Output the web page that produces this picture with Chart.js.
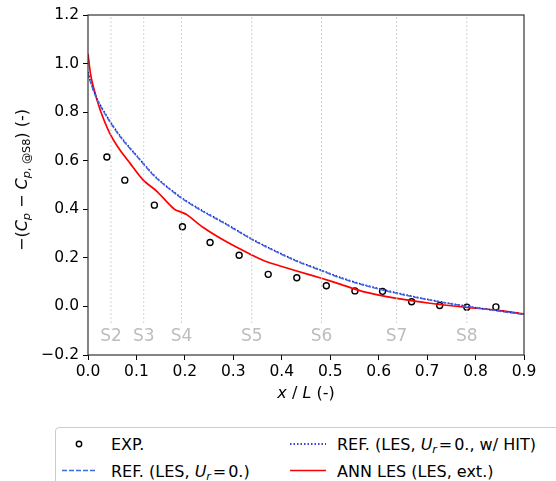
<!DOCTYPE html>
<html><head><meta charset="utf-8">
<script src="https://cdn.jsdelivr.net/npm/chart.js@4.4.0/dist/chart.umd.min.js"></script>
<style>
body{margin:0;background:#fff;}
#wrap{position:relative;width:556px;height:481px;overflow:hidden;font-family:"DejaVu Sans",sans-serif;color:#000;background:#fff;}
#c{position:absolute;left:0;top:0;}
.t{position:absolute;white-space:nowrap;font-size:16px;line-height:18px;}
sub{font-size:70%;vertical-align:-0.3em;line-height:0;}
.eq{margin:0 0.12em;}
.ytitle{left:22px;top:180px;transform:translate(-50%,-50%) rotate(-90deg);}
.xtitle{left:306px;top:393px;transform:translate(-50%,-50%);}
#legend{position:absolute;left:55px;top:427px;width:520px;height:80px;border:1px solid #cccccc;border-radius:4px;background:#fff;}
svg{position:absolute;left:0;top:0;overflow:visible;}
</style></head>
<body>
<div id="wrap">
<canvas id="c" width="556" height="481"></canvas>
<div class="t ytitle">−(<i>C</i><sub><i>p</i></sub> − <i>C</i><sub><i>p</i>, @S8</sub>) (-)</div>
<div class="t xtitle"><i>x</i> / <i>L</i> (-)</div>
<div id="legend"></div>
<svg width="556" height="481">
  <circle cx="79" cy="444" r="2.7" fill="none" stroke="#000" stroke-width="1.4"/>
  <line x1="62" y1="470.5" x2="97" y2="470.5" stroke="#4169e1" stroke-width="1.5" stroke-dasharray="5,2"/>
  <line x1="290" y1="444" x2="326" y2="444" stroke="#0000cd" stroke-width="1.5" stroke-dasharray="1.5,2"/>
  <line x1="290" y1="470.5" x2="326" y2="470.5" stroke="#ff0000" stroke-width="1.7"/>
</svg>
<div class="t" style="left:111px;top:436px;">EXP.</div>
<div class="t" style="left:111px;top:462.5px;">REF. (LES, <i>U</i><sub><i>r</i></sub><span class="eq">=</span>0.)</div>
<div class="t" style="left:337px;top:436px;">REF. (LES, <i>U</i><sub><i>r</i></sub><span class="eq">=</span>0., w/ HIT)</div>
<div class="t" style="left:337px;top:462.5px;">ANN LES (LES, ext.)</div>
</div>
<script>
// ---- data ----
const expX = [0.039,0.076,0.137,0.195,0.252,0.312,0.372,0.431,0.492,0.551,0.608,0.668,0.726,0.782,0.842];
const expY = [0.615,0.52,0.417,0.328,0.263,0.211,0.132,0.118,0.085,0.064,0.062,0.019,0.004,-0.003,-0.002];

const refX = [0,0.004,0.018,0.039,0.066,0.10,0.142,0.195,0.238,0.279,0.338,0.376,0.431,0.482,0.52,0.568,0.637,0.706,0.782,0.844,0.9];
const refY = [0.96,0.93,0.855,0.78,0.70,0.62,0.527,0.443,0.39,0.345,0.276,0.237,0.186,0.147,0.118,0.088,0.054,0.026,0.0,-0.018,-0.033];
const hitY = [0.965,0.934,0.858,0.783,0.703,0.622,0.529,0.445,0.392,0.347,0.278,0.239,0.188,0.149,0.12,0.09,0.056,0.027,0.001,-0.017,-0.032];

const annX = [0,0.005,0.011,0.025,0.045,0.066,0.087,0.114,0.141,0.169,0.18,0.193,0.204,0.238,0.286,0.338,0.369,0.431,0.482,0.52,0.568,0.637,0.706,0.782,0.844,0.9];
const annY = [1.04,0.96,0.905,0.81,0.713,0.644,0.589,0.52,0.476,0.418,0.398,0.388,0.378,0.325,0.266,0.212,0.184,0.146,0.116,0.092,0.061,0.033,0.013,-0.004,-0.015,-0.031];

const stations = ['S2','S3','S4','S5','S6','S7','S8'];
const stationX = [0.0475,0.115,0.193,0.338,0.482,0.637,0.782];
const stationLineBottom = -0.068;
const stationLabelY = -0.126;

const xTicks = [0,0.1,0.2,0.3,0.4,0.5,0.6,0.7,0.8,0.9];
const yTicks = [-0.2,0,0.2,0.4,0.6,0.8,1.0,1.2];

const pts = (xs, ys) => xs.map((x,i)=>({x:x,y:ys[i]}));

const stationSets = stationX.map(s => ({
  data:[{x:s,y:stationLineBottom},{x:s,y:1.2}],
  showLine:true, borderColor:'#c4c4c4', borderWidth:1, borderDash:[1.5,2.5],
  pointRadius:0, fill:false
}));

const frame = {
  id:'frame',
  afterDraw(chart){
    const {ctx, chartArea:a, scales} = chart;
    ctx.save();
    ctx.strokeStyle='#333'; ctx.lineWidth=1.2;
    ctx.strokeRect(a.left, a.top, a.right-a.left, a.bottom-a.top);
    ctx.fillStyle='#bdbdbd';
    ctx.font='17px "DejaVu Sans"';
    ctx.textAlign='center'; ctx.textBaseline='middle';
    stations.forEach((s,i)=>{
      ctx.fillText(s, scales.x.getPixelForValue(stationX[i]), scales.y.getPixelForValue(stationLabelY));
    });
    ctx.restore();
  }
};

const fmt = v => (Math.round(v*10)/10).toFixed(1).replace('-','−');

new Chart(document.getElementById('c'), {
  type:'scatter',
  data:{datasets:[
    ...stationSets,
    {label:'REF. (LES, Ur=0.)', data:pts(refX,refY), showLine:true, borderColor:'#4169e1', borderWidth:1.5, borderDash:[5,2], pointRadius:0, tension:0.3},
    {label:'REF. (LES, Ur=0., w/ HIT)', data:pts(refX,hitY), showLine:true, borderColor:'#0000cd', borderWidth:1.5, borderDash:[1.5,2], pointRadius:0, tension:0.3},
    {label:'ANN LES (LES, ext.)', data:pts(annX,annY), showLine:true, borderColor:'#ff0000', borderWidth:1.7, pointRadius:0, tension:0.25},
    {label:'EXP.', data:pts(expX,expY), showLine:false, pointRadius:3, pointBorderWidth:1.4, pointBorderColor:'#000', pointBackgroundColor:'rgba(0,0,0,0)'}
  ]},
  options:{
    responsive:false, animation:false, devicePixelRatio:1,
    layout:{padding:{top:15,right:32,left:0,bottom:0}},
    plugins:{legend:{display:false}, tooltip:{enabled:false}},
    scales:{
      x:{type:'linear', min:0, max:0.9,
        afterBuildTicks:s=>{s.ticks=xTicks.map(v=>({value:v}));},
        afterFit:s=>{s.height=126;},
        border:{display:false},
        grid:{drawOnChartArea:false, drawTicks:true, tickLength:5, color:'#000', tickColor:'#000'},
        ticks:{color:'#000', font:{family:'DejaVu Sans', size:15.5}, padding:3, maxRotation:0, callback:v=>fmt(v)}
      },
      y:{type:'linear', min:-0.2, max:1.2,
        afterBuildTicks:s=>{s.ticks=yTicks.map(v=>({value:v}));},
        afterFit:s=>{s.width=88;},
        border:{display:false},
        grid:{drawOnChartArea:false, drawTicks:true, tickLength:5, color:'#000', tickColor:'#000'},
        ticks:{color:'#000', font:{family:'DejaVu Sans', size:15.5}, padding:4, callback:v=>fmt(v)}
      }
    }
  },
  plugins:[frame]
});
</script>
</body></html>
